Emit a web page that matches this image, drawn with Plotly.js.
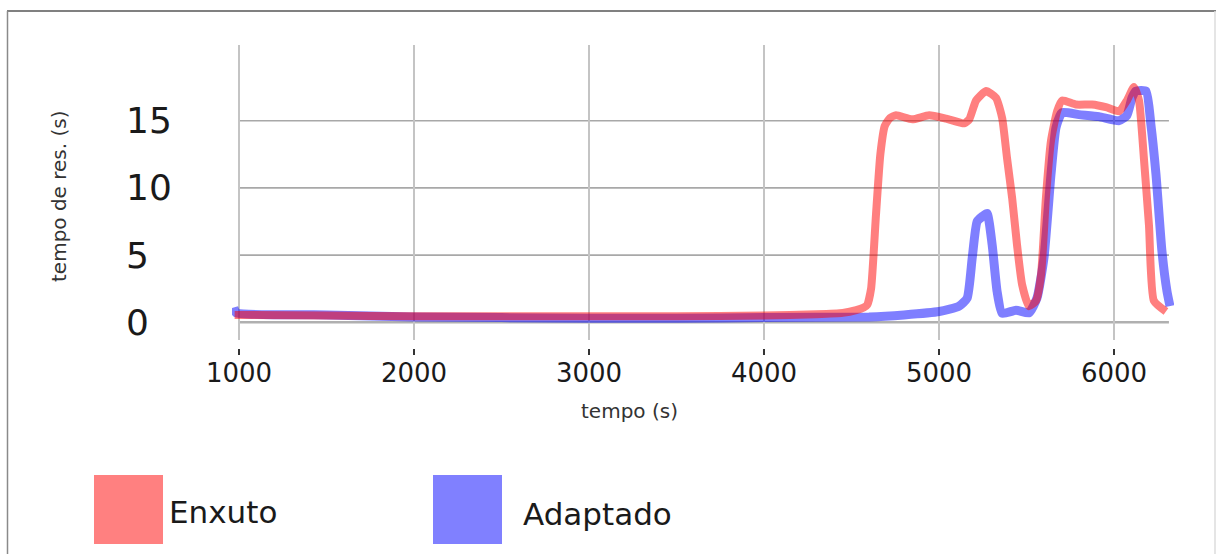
<!DOCTYPE html>
<html>
<head>
<meta charset="utf-8">
<script src="https://cdn.plot.ly/plotly-3.0.1.min.js"></script>
<style>
  html, body { margin: 0; padding: 0; background: #ffffff; }
  #chart { width: 1216px; height: 554px; }
</style>
</head>
<body>
<div id="chart"></div>
<script>
// Response time (s) over elapsed time (s) for the two configurations
const tempoEnxuto = [975, 1500, 2000, 2500, 3000, 3500, 4000, 4300, 4450, 4527, 4570, 4590, 4612, 4640, 4665, 4690, 4720, 4755, 4847, 4944, 5041, 5144, 5173, 5212, 5269, 5326, 5361, 5389, 5418, 5446, 5475, 5514, 5554, 5583, 5611, 5640, 5675, 5703, 5783, 5874, 5954, 6029, 6074, 6114, 6143, 6171, 6200, 6228, 6297];
const respEnxuto  = [0.55, 0.5, 0.45, 0.45, 0.45, 0.45, 0.5, 0.6, 0.7, 0.9, 1.1, 1.3, 2.5, 8.0, 12.5, 14.6, 15.2, 15.4, 15.1, 15.4, 15.15, 14.8, 15.1, 16.5, 17.2, 16.7, 15.2, 12.2, 9.25, 5.75, 2.8, 1.2, 1.6, 3.5, 9.25, 13.5, 15.7, 16.5, 16.2, 16.2, 16.0, 15.7, 16.5, 17.5, 16.5, 12.2, 7.2, 1.6, 0.8];

const tempoAdaptado = [970, 985, 1500, 2000, 2500, 3000, 3500, 4000, 4600, 4800, 5001, 5115, 5161, 5190, 5218, 5250, 5275, 5304, 5332, 5361, 5440, 5514, 5560, 5600, 5640, 5669, 5703, 5800, 5914, 6029, 6074, 6103, 6125, 6183, 6211, 6240, 6274, 6303, 6320];
const respAdaptado  = [1.1, 0.7, 0.55, 0.4, 0.35, 0.3, 0.3, 0.35, 0.4, 0.55, 0.8, 1.2, 1.8, 4.8, 7.5, 7.9, 8.1, 5.75, 2.3, 0.67, 0.9, 0.7, 1.8, 4.8, 11, 14.5, 15.6, 15.45, 15.3, 15.0, 15.4, 16.7, 17.2, 17.2, 14.7, 11, 5.3, 2.3, 1.2];

const xTicks = [1000, 2000, 3000, 4000, 5000, 6000];
const yTicks = [0, 5, 10, 15];
const seriesNames = ['Enxuto', 'Adaptado'];
const axisTitles = { x: 'tempo (s)', y: 'tempo de res. (s)' };

// Figure geometry (pixels)
const W = 1216, H = 554;
const L = 232, R = 1174, T = 45, B = 340;
const fx = px => (px - L) / (R - L);
const fy = py => (B - py) / (B - T);

const FONT = 'DejaVu Sans, Verdana, sans-serif';
const RED = 'rgba(255,0,0,0.5)';
const BLUE = 'rgba(0,0,255,0.5)';
const gridEnd = 6314;

const traces = [
  { x: tempoAdaptado, y: respAdaptado, name: seriesNames[1], type: 'scatter', mode: 'lines',
    line: { color: BLUE, width: 9, shape: 'spline', smoothing: 0.5 }, showlegend: false, hoverinfo: 'skip' },
  { x: tempoEnxuto, y: respEnxuto, name: seriesNames[0], type: 'scatter', mode: 'lines',
    line: { color: RED, width: 8, shape: 'spline', smoothing: 0.5 }, showlegend: false, hoverinfo: 'skip' }
];

const shapes = [];
// horizontal grid lines
yTicks.forEach(v => shapes.push({
  type: 'line', layer: 'below', xref: 'x', yref: 'y', x0: xTicks[0], x1: gridEnd, y0: v, y1: v,
  line: { color: v === 0 ? '#b0b0b0' : '#a8a8a8', width: v === 0 ? 2.5 : 1.6 }
}));
// x tick marks, detached below the plot
xTicks.forEach(v => shapes.push({
  type: 'line', xref: 'x', yref: 'paper', x0: v, x1: v, y0: fy(349), y1: fy(355),
  line: { color: '#333333', width: 2 }
}));
// figure frame
shapes.push({ type: 'line', xref: 'paper', yref: 'paper', x0: fx(7), x1: fx(1216), y0: fy(11), y1: fy(11), line: { color: '#808080', width: 2 } });
shapes.push({ type: 'line', xref: 'paper', yref: 'paper', x0: fx(7.5), x1: fx(7.5), y0: fy(11), y1: fy(560), line: { color: '#8a8a8a', width: 1.5 } });
shapes.push({ type: 'line', xref: 'paper', yref: 'paper', x0: fx(1215), x1: fx(1215), y0: fy(11), y1: fy(560), line: { color: '#dddddd', width: 1.5 } });

// legend swatches
const legendItems = [
  { name: seriesNames[0], fill: '#ff8080', box: [94, 163], textX: 167, textY: 512 },
  { name: seriesNames[1], fill: '#8080ff', box: [433, 502], textX: 521, textY: 514 }
];
legendItems.forEach(it => shapes.push({
  type: 'rect', xref: 'paper', yref: 'paper', x0: fx(it.box[0]), x1: fx(it.box[1]), y0: fy(475), y1: fy(544),
  fillcolor: it.fill, line: { width: 0 }
}));

const annotations = [];
yTicks.forEach(v => annotations.push({
  xref: 'paper', yref: 'y', x: fx(124), y: v, xanchor: 'left', yanchor: 'middle',
  text: String(v), showarrow: false, font: { family: FONT, size: 36, color: '#1a1a1a' }
}));
annotations.push({
  xref: 'paper', yref: 'paper', x: fx(59), y: fy(196), xanchor: 'center', yanchor: 'middle',
  text: axisTitles.y, textangle: -90, showarrow: false, font: { family: FONT, size: 20, color: '#333333' }
});
annotations.push({
  xref: 'paper', yref: 'paper', x: fx(629), y: fy(411), xanchor: 'center', yanchor: 'middle',
  text: axisTitles.x, showarrow: false, font: { family: FONT, size: 20, color: '#333333' }
});
legendItems.forEach(it => annotations.push({
  xref: 'paper', yref: 'paper', x: fx(it.textX), y: fy(it.textY), xanchor: 'left', yanchor: 'middle',
  text: it.name, showarrow: false, font: { family: FONT, size: 31, color: '#1a1a1a' }
}));

const layout = {
  width: W, height: H,
  margin: { l: L, r: W - R, t: T, b: H - B, pad: 0 },
  paper_bgcolor: '#ffffff', plot_bgcolor: '#ffffff',
  showlegend: false,
  xaxis: {
    range: [960, 6343], tickvals: xTicks, ticktext: xTicks.map(String),
    showgrid: true, gridcolor: '#c4c4c4', gridwidth: 1.5,
    zeroline: false, showline: false, ticks: '',
    ticklabelstandoff: 15,
    tickfont: { family: FONT, size: 26, color: '#1a1a1a' }
  },
  yaxis: {
    range: [-1.317, 20.63], tickvals: yTicks, showticklabels: false,
    showgrid: false, zeroline: false, showline: false, ticks: ''
  },
  shapes: shapes,
  annotations: annotations
};

Plotly.newPlot('chart', traces, layout, { staticPlot: true, displayModeBar: false });
</script>
</body>
</html>
